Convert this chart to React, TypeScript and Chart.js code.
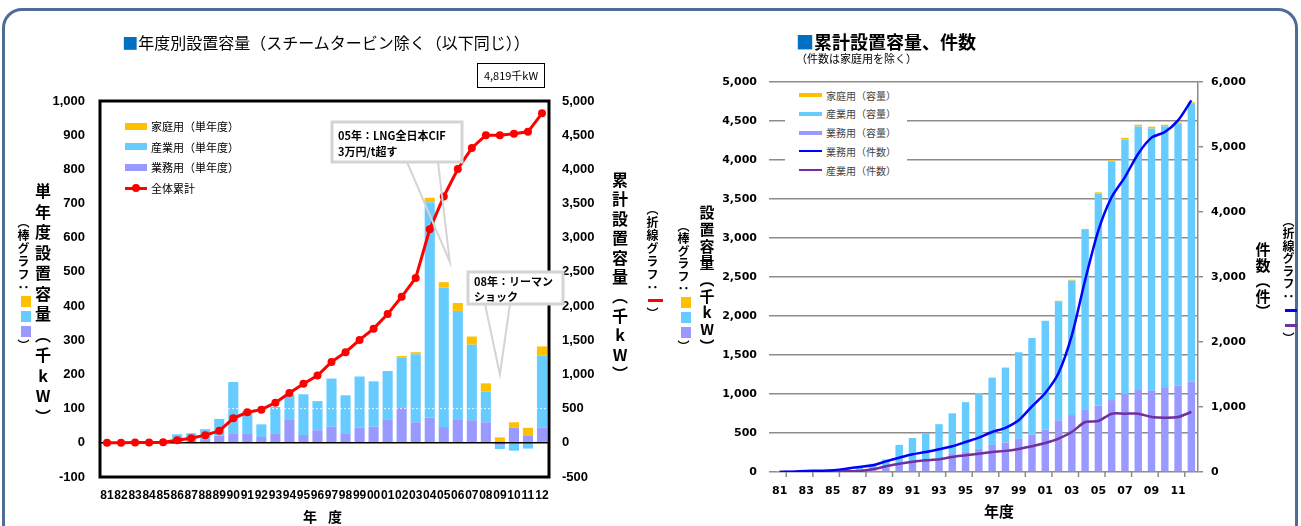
import { useEffect, useRef } from 'react';
import { Chart, registerables } from 'chart.js';

Chart.register(...registerables);

// ---- categories (fiscal years) ----
const years = ['81','82','83','84','85','86','87','88','89','90','91','92','93','94','95','96','97','98','99','00','01','02','03','04','05','06','07','08','09','10','11','12'];

// ---- single-year installed capacity (千kW) ----
const officeAnnual = [0,1,1,1,1,5,6,8,21,28,28,17,28,69,23,37,47,28,44,47,67,104,60,73,46,69,66,60,-8,44,22,44];
const industryAnnual = [1,1,2,3,3,20,22,32,49,150,65,37,77,71,119,85,141,111,150,133,143,145,199,631,408,317,221,90,-10,-23,-17,211];
const homeAnnual = [0,0,0,0,0,0,0,0,0,0,0,0,0,0,0,0,0,0,0,0,0,5,6,13,16,23,24,24,16,16,22,27];
const totalCumulative = [0,1,3,6,10,39,68,112,175,359,447,485,587,728,864,985,1184,1325,1505,1670,1883,2136,2412,3123,3603,4005,4314,4500,4500,4520,4549,4819];

// ---- cumulative installed capacity (千kW) ----
const officeCum = [1,2,3,4,6,10,15,25,60,100,140,155,165,230,261,296,348,378,426,478,543,661,730,804,848,922,1000,1052,1043,1078,1109,1161];
const industryCum = [2,3,5,8,12,30,50,80,101,248,295,341,448,522,635,717,861,961,1109,1239,1396,1527,1723,2298,2723,3054,3263,3379,3362,3355,3354,3558];
const homeCum = [0,0,0,0,0,0,0,0,0,0,0,0,0,0,0,0,0,0,0,0,0,8,12,15,15,20,22,22,22,20,20,22];

// ---- cumulative number of installations (件) ----
const officeCount = [0,5,15,20,26,51,77,103,164,220,272,308,349,395,462,528,615,680,795,1010,1215,1523,2102,2950,3718,4231,4538,4897,5144,5231,5410,5718];
const industryCount = [0,0,2,4,6,10,15,41,87,128,159,180,195,231,256,282,308,325,355,395,446,513,615,769,785,897,897,897,846,836,846,923];

// ---- axis settings ----
const leftAxisMin = -100, leftAxisMax = 1000, leftAxisStep = 100;
const leftAxis2Min = -500, leftAxis2Max = 5000, leftAxis2Step = 500;
const rightAxisMax = 5000, rightAxisStep = 500;
const rightAxis2Max = 6000, rightAxis2Step = 1000;

const jp = "'Noto Sans CJK JP', 'Noto Sans', sans-serif";
const numL = "'Liberation Sans', Arial, sans-serif";
const numR = "'DejaVu Sans', sans-serif";

const C_HOME = '#FFC000';
const C_IND = '#66CCFF';
const C_OFF = '#9999FF';
const C_RED = '#FF0000';
const C_BLUE = '#0000FF';
const C_VIOLET = '#7030A0';
const C_GRID = '#8C8C8C';

const fmt = (v: number) => Number(v).toLocaleString('en-US');

type Callout = { box: number[]; base: number[]; cat: number; val: number; dx: number; lines: string[]; ty: number[] };

const callouts: Callout[] = [
  { box: [232, 21, 130, 40], base: [307, 338], cat: 24, val: 530, dx: 6, lines: ['05年：LNG全日本CIF', '3万円/t超す'], ty: [14, 30] },
  { box: [368, 171, 95, 32], base: [385, 410], cat: 28, val: 200, dx: 0, lines: ['08年：リーマン', 'ショック'], ty: [10, 25] },
];

const leftDecor = {
  id: 'leftDecor',
  beforeDatasetDraw(chart: any, args: any) {
    if (args.index !== 3) return;
    const { ctx, chartArea: a, scales } = chart;
    const y0 = scales.y.getPixelForValue(0);
    const y100 = scales.y.getPixelForValue(100);
    ctx.save();
    ctx.strokeStyle = 'rgba(255,255,255,0.9)';
    ctx.lineWidth = 1;
    ctx.setLineDash([2, 2]);
    ctx.beginPath();
    ctx.moveTo(a.left, y100);
    ctx.lineTo(a.right, y100);
    ctx.stroke();
    ctx.setLineDash([]);
    ctx.strokeStyle = '#000';
    ctx.lineWidth = 1.5;
    ctx.beginPath();
    ctx.moveTo(a.left, y0);
    ctx.lineTo(a.right, y0);
    ctx.stroke();
    ctx.restore();
  },
  afterDraw(chart: any) {
    const { ctx, chartArea: a, scales } = chart;
    ctx.save();
    ctx.strokeStyle = '#000';
    ctx.lineWidth = 3;
    ctx.strokeRect(a.left, a.top, a.right - a.left, a.bottom - a.top);
    for (const c of callouts) {
      const bx = a.left + c.box[0], by = a.top + c.box[1], bw = c.box[2], bh = c.box[3];
      const tx = scales.x.getPixelForValue(c.cat) + c.dx;
      const ty = scales.y.getPixelForValue(c.val);
      ctx.strokeStyle = '#D4D4D4';
      ctx.lineWidth = 2;
      ctx.beginPath();
      ctx.moveTo(a.left + c.base[0], by + bh);
      ctx.lineTo(tx, ty);
      ctx.lineTo(a.left + c.base[1], by + bh);
      ctx.stroke();
      ctx.fillStyle = '#fff';
      ctx.fillRect(bx, by, bw, bh);
      ctx.lineWidth = 3;
      ctx.strokeRect(bx, by, bw, bh);
      ctx.fillStyle = '#000';
      ctx.font = `bold 11px ${jp}`;
      ctx.textBaseline = 'middle';
      ctx.textAlign = 'left';
      c.lines.forEach((t, i) => ctx.fillText(t, bx + 6, by + c.ty[i]));
    }
    ctx.restore();
  },
};

const rightDecor = {
  id: 'rightDecor',
  afterDraw(chart: any) {
    const { ctx, chartArea: a, scales } = chart;
    const x = scales.x;
    ctx.save();
    ctx.strokeStyle = C_GRID;
    ctx.lineWidth = 1.5;
    for (let k = 1; k < years.length; k += 2) {
      const px = (x.getPixelForValue(k - 1) + x.getPixelForValue(k)) / 2;
      ctx.beginPath();
      ctx.moveTo(px, a.bottom);
      ctx.lineTo(px, a.bottom + 5);
      ctx.stroke();
    }
    ctx.restore();
  },
};

function VText(props: { x: number; y: number; size: number; bold?: boolean; spacing?: number; children: any }) {
  const { x, y, size, bold, spacing, children } = props;
  return (
    <div
      style={{
        position: 'absolute',
        left: x - size / 2,
        top: y,
        writingMode: 'vertical-rl',
        textOrientation: 'upright',
        fontFamily: jp,
        fontSize: size,
        fontWeight: bold ? 700 : 400,
        letterSpacing: spacing ?? 0,
        lineHeight: 1,
        color: '#000',
        whiteSpace: 'nowrap',
      }}
    >
      {children}
    </div>
  );
}

const Sw = ({ c, w = 10, h = 11, m = 2 }: { c: string; w?: number; h?: number; m?: number }) => (
  <span style={{ display: 'inline-block', width: w, height: h, background: c, margin: `${m}px 0`, verticalAlign: 'middle' }} />
);

export default function App() {
  const leftRef = useRef<HTMLCanvasElement>(null);
  const rightRef = useRef<HTMLCanvasElement>(null);

  useEffect(() => {
    const left = new Chart(leftRef.current as HTMLCanvasElement, {
      type: 'bar',
      data: {
        labels: years,
        datasets: [
          { label: '業務用（単年度）', data: officeAnnual, backgroundColor: C_OFF, yAxisID: 'y', order: 1, barPercentage: 0.72, categoryPercentage: 1 },
          { label: '産業用（単年度）', data: industryAnnual, backgroundColor: C_IND, yAxisID: 'y', order: 1, barPercentage: 0.72, categoryPercentage: 1 },
          { label: '家庭用（単年度）', data: homeAnnual, backgroundColor: C_HOME, yAxisID: 'y', order: 1, barPercentage: 0.72, categoryPercentage: 1 },
          {
            type: 'line', label: '全体累計', data: totalCumulative, yAxisID: 'y1', order: 0,
            borderColor: C_RED, backgroundColor: C_RED, borderWidth: 3,
            pointRadius: 4, pointBorderWidth: 0, pointBackgroundColor: C_RED, tension: 0,
          } as any,
        ],
      },
      options: {
        responsive: false,
        animation: false,
        layout: { padding: { left: 0, right: 0, top: 101, bottom: 0 } },
        plugins: { legend: { display: false }, tooltip: { enabled: false } },
        scales: {
          x: {
            stacked: true,
            grid: { display: false, drawTicks: false },
            border: { display: false },
            ticks: { autoSkip: false, maxRotation: 0, minRotation: 0, padding: 11, color: '#000', font: { family: numL, size: 12, weight: 'bold' } },
            afterFit: (s: any) => { s.height = 49; },
          },
          y: {
            stacked: true,
            min: leftAxisMin, max: leftAxisMax,
            grid: { display: false, drawTicks: false },
            border: { display: false },
            ticks: { stepSize: leftAxisStep, padding: 15, color: '#000', callback: (v: any) => fmt(v), font: { family: numL, size: 13, weight: 'bold' } },
            afterFit: (s: any) => { s.width = 100; },
          },
          y1: {
            position: 'right',
            min: leftAxis2Min, max: leftAxis2Max,
            grid: { display: false, drawTicks: false },
            border: { display: false },
            ticks: { stepSize: leftAxis2Step, padding: 13, color: '#000', callback: (v: any) => fmt(v), font: { family: numL, size: 13, weight: 'bold' } },
            afterFit: (s: any) => { s.width = 151; },
          },
        },
      } as any,
      plugins: [leftDecor],
    });

    const right = new Chart(rightRef.current as HTMLCanvasElement, {
      type: 'bar',
      data: {
        labels: years,
        datasets: [
          { label: '業務用（容量）', data: officeCum, backgroundColor: C_OFF, yAxisID: 'y', order: 1, barPercentage: 0.56, categoryPercentage: 1 },
          { label: '産業用（容量）', data: industryCum, backgroundColor: C_IND, yAxisID: 'y', order: 1, barPercentage: 0.56, categoryPercentage: 1 },
          { label: '家庭用（容量）', data: homeCum, backgroundColor: C_HOME, yAxisID: 'y', order: 1, barPercentage: 0.56, categoryPercentage: 1 },
          { type: 'line', label: '業務用（件数）', data: officeCount, yAxisID: 'y1', order: 0, borderColor: C_BLUE, borderWidth: 2.5, pointRadius: 0, tension: 0.25 } as any,
          { type: 'line', label: '産業用（件数）', data: industryCount, yAxisID: 'y1', order: 0, borderColor: C_VIOLET, borderWidth: 2.5, pointRadius: 0, tension: 0.25 } as any,
        ],
      },
      options: {
        responsive: false,
        animation: false,
        layout: { padding: { left: 0, right: 0, top: 82, bottom: 0 } },
        plugins: { legend: { display: false }, tooltip: { enabled: false } },
        scales: {
          x: {
            stacked: true,
            grid: { display: false, drawTicks: false },
            border: { display: false },
            ticks: {
              autoSkip: false, maxRotation: 0, minRotation: 0, padding: 13, color: '#000',
              callback: (_v: any, i: number) => (i % 2 === 0 ? years[i] : ''),
              font: { family: numR, size: 11, weight: 'bold' },
            },
            afterFit: (s: any) => { s.height = 54; },
          },
          y: {
            stacked: true,
            min: 0, max: rightAxisMax,
            grid: { color: C_GRID, lineWidth: 1.5, drawTicks: true, tickLength: 4 },
            border: { display: false },
            ticks: { stepSize: rightAxisStep, padding: 12, color: '#000', callback: (v: any) => fmt(v), font: { family: numR, size: 11, weight: 'bold' } },
            afterFit: (s: any) => { s.width = 73; },
          },
          y1: {
            position: 'right',
            min: 0, max: rightAxis2Max,
            grid: { drawOnChartArea: false, color: C_GRID, lineWidth: 1.5, drawTicks: true, tickLength: 5 },
            border: { display: true, color: C_GRID, width: 1.5 },
            ticks: { stepSize: rightAxis2Step, padding: 8, color: '#000', callback: (v: any) => fmt(v), font: { family: numR, size: 11, weight: 'bold' } },
            afterFit: (s: any) => { s.width = 103; },
          },
        },
      } as any,
      plugins: [rightDecor],
    });

    return () => {
      left.destroy();
      right.destroy();
    };
  }, []);

  const legendL = [
    { t: '家庭用（単年度）', c: C_HOME },
    { t: '産業用（単年度）', c: C_IND },
    { t: '業務用（単年度）', c: C_OFF },
  ];
  const legendR = [
    { t: '家庭用（容量）', c: C_HOME, line: false },
    { t: '産業用（容量）', c: C_IND, line: false },
    { t: '業務用（容量）', c: C_OFF, line: false },
    { t: '業務用（件数）', c: C_BLUE, line: true },
    { t: '産業用（件数）', c: C_VIOLET, line: true },
  ];

  return (
    <div style={{ position: 'absolute', left: 0, top: 0, width: 1301, height: 526, overflow: 'hidden', background: '#fff', fontFamily: jp }}>
      {/* panel frame */}
      <div style={{ position: 'absolute', left: 2, top: 8, width: 1290, height: 560, border: '3px solid #4F6B96', borderRadius: 20 }} />

      <canvas ref={leftRef} width={700} height={526} style={{ position: 'absolute', left: 0, top: 0 }} />
      <canvas ref={rightRef} width={601} height={526} style={{ position: 'absolute', left: 700, top: 0 }} />

      {/* left chart texts */}
      <div style={{ position: 'absolute', left: 118, top: 32, width: 416, textAlign: 'center', fontSize: 16, lineHeight: '20px', whiteSpace: 'nowrap' }}>
        <span style={{ color: '#0070C0' }}>■</span>年度別設置容量（スチームタービン除く（以下同じ））
      </div>
      <div style={{ position: 'absolute', left: 477, top: 63, width: 66, height: 23, border: '1px solid #000', fontSize: 11, lineHeight: '23px', textAlign: 'center', whiteSpace: 'nowrap' }}>
        4,819千kW
      </div>
      {legendL.map((l, i) => (
        <div key={l.t} style={{ position: 'absolute', left: 125, top: 118 + i * 20.7, height: 16, display: 'flex', alignItems: 'center', fontSize: 11, whiteSpace: 'nowrap' }}>
          <span style={{ display: 'inline-block', width: 22, height: 7, background: l.c, marginRight: 4 }} />
          {l.t}
        </div>
      ))}
      <div style={{ position: 'absolute', left: 125, top: 180, height: 16, display: 'flex', alignItems: 'center', fontSize: 11, whiteSpace: 'nowrap' }}>
        <span style={{ position: 'relative', display: 'inline-block', width: 22, height: 8, marginRight: 4 }}>
          <span style={{ position: 'absolute', left: 0, top: 3, width: 22, height: 2.5, background: C_RED }} />
          <span style={{ position: 'absolute', left: 7, top: 0, width: 8, height: 8, borderRadius: 4, background: C_RED }} />
        </span>
        全体累計
      </div>
      <VText x={43} y={183} size={16} bold spacing={4.5}>単年度設置容量（千kW）</VText>
      <VText x={23} y={216} size={12} bold spacing={1}>
        （棒グラフ：<Sw c={C_HOME} /><Sw c={C_IND} /><Sw c={C_OFF} />）
      </VText>
      <VText x={620} y={172} size={16} bold spacing={3.4}>累計設置容量（千kW）</VText>
      <VText x={652} y={203} size={12} bold spacing={1}>
        （折線グラフ：<Sw c={C_RED} w={15} h={3} m={5} />）
      </VText>
      <div style={{ position: 'absolute', left: 303, top: 508, fontSize: 14, fontWeight: 700, letterSpacing: 11, lineHeight: '16px' }}>年度</div>

      {/* right chart texts */}
      <div style={{ position: 'absolute', left: 796, top: 30, fontSize: 18, fontWeight: 700, lineHeight: '22px', whiteSpace: 'nowrap' }}>
        <span style={{ color: '#0070C0' }}>■</span>累計設置容量、件数
      </div>
      <div style={{ position: 'absolute', left: 796, top: 51, fontSize: 11, lineHeight: '14px', whiteSpace: 'nowrap' }}>（件数は家庭用を除く）</div>
      <div style={{ position: 'absolute', left: 785, top: 86, width: 122, height: 94, background: '#fff' }}>
        {legendR.map((l, i) => (
          <div key={l.t} style={{ position: 'absolute', left: 14, top: 2 + i * 18.8, height: 14, display: 'flex', alignItems: 'center', fontSize: 10, color: '#444', whiteSpace: 'nowrap' }}>
            <span style={{ display: 'inline-block', width: 23, height: l.line ? 2 : 4, background: l.c, marginRight: 4 }} />
            {l.t}
          </div>
        ))}
      </div>
      <VText x={707} y={205} size={15} bold spacing={1.7}>設置容量（千kW）</VText>
      <VText x={683} y={220} size={12} bold spacing={0.5}>
        （棒グラフ：<Sw c={C_HOME} /><Sw c={C_IND} /><Sw c={C_OFF} />）
      </VText>
      <VText x={1263} y={242} size={15} bold spacing={0.5}>件数（件）</VText>
      <VText x={1288} y={215} size={12} bold spacing={0.5}>
        （折線グラフ：<Sw c={C_BLUE} w={12} h={3} m={6} /><Sw c={C_VIOLET} w={12} h={3} m={6} />）
      </VText>
      <div style={{ position: 'absolute', left: 984, top: 502, fontSize: 15, fontWeight: 700, lineHeight: '17px' }}>年度</div>
    </div>
  );
}
